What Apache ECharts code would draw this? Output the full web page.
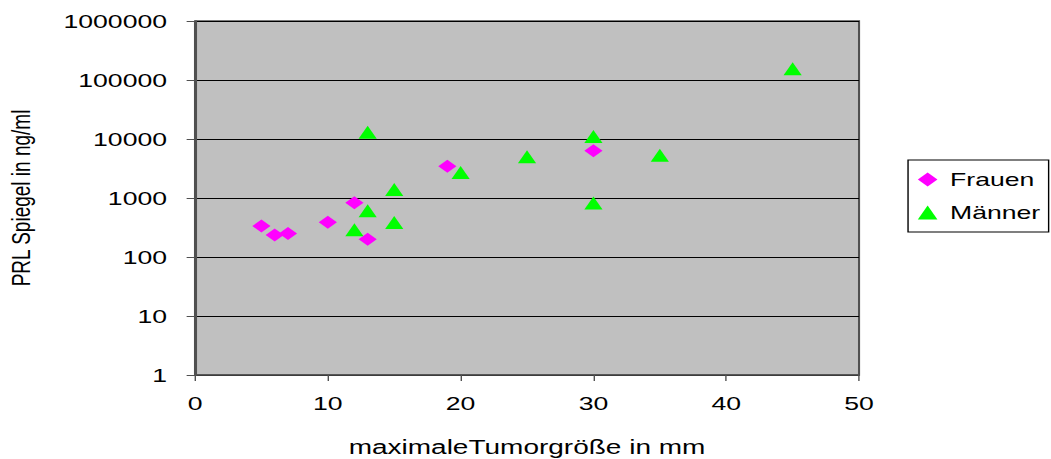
<!DOCTYPE html>
<html>
<head>
<meta charset="utf-8">
<script src="https://cdn.jsdelivr.net/npm/echarts@6/dist/echarts.min.js"></script>
<style>
  html, body { margin: 0; padding: 0; background: #ffffff; overflow: hidden; }
  #wrap { width: 1051px; height: 459px; overflow: hidden; }
  #chart { width: 751px; height: 459px; transform: scaleX(1.4); transform-origin: 0 0; }
</style>
</head>
<body>
<div id="wrap"><div id="chart"></div></div>
<script>
// ---- data ----
const seriesNames = ['Frauen', 'Männer'];
const frauenX = [5, 6, 7, 10, 12, 13, 19, 30];
const frauenY = [335, 235, 250, 390, 830, 200, 3450, 6300];
const maennerX = [12, 13, 13, 15, 15, 20, 25, 30, 30, 35, 45];
const maennerY = [290, 610, 13000, 385, 1400, 2700, 5000, 11000, 820, 5300, 155000];
const xTickLabels = ['0', '10', '20', '30', '40', '50'];
const yTickLabels = ['1', '10', '100', '1000', '10000', '100000', '1000000'];
const xTitle = 'maximaleTumorgröße in mm';
const yTitle = 'PRL Spiegel in ng/ml';

const pairs = (xs, ys) => xs.map((x, i) => [x, ys[i]]);
const font = 'Liberation Sans';

const chart = echarts.init(document.getElementById('chart'), null, { renderer: 'svg' });
chart.setOption({
  animation: false,
  backgroundColor: '#ffffff',
  textStyle: { fontFamily: font, color: '#000' },
  grid: {
    left: 139.3, right: 137.4, top: 21, bottom: 84,
    containLabel: false, outerBoundsMode: 'none',
    show: true, backgroundColor: '#C0C0C0', borderColor: '#505050', borderWidth: 1.5
  },
  legend: {
    orient: 'vertical',
    left: 648.6, top: 160,
    padding: [10, 6, 10, 7],
    itemGap: 14,
    itemWidth: 14, itemHeight: 14,
    backgroundColor: '#ffffff',
    borderColor: '#000000', borderWidth: 1,
    textStyle: { fontFamily: font, fontSize: 19, color: '#000', padding: [0, 0, 0, 4] },
    data: [
      { name: seriesNames[0], icon: 'diamond' },
      { name: seriesNames[1], icon: 'triangle' }
    ]
  },
  xAxis: {
    type: 'value',
    min: 0, max: 50, interval: 10,
    name: xTitle, nameLocation: 'middle', nameGap: 62,
    nameTextStyle: { fontFamily: font, fontSize: 20, color: '#000' },
    axisLine: { show: true, lineStyle: { color: '#505050', width: 1.5 } },
    axisTick: { show: true, inside: false, length: 6, lineStyle: { color: '#505050' } },
    axisLabel: { fontFamily: font, fontSize: 19, color: '#000', margin: 19,
      formatter: (v) => xTickLabels[Math.round(v / 10)] },
    splitLine: { show: false }
  },
  yAxis: {
    type: 'log', logBase: 10,
    min: 1, max: 1000000, splitNumber: 6,
    name: yTitle, nameLocation: 'middle', nameRotate: 90, nameGap: 115,
    nameTextStyle: { fontFamily: font, fontSize: 19, color: '#000' },
    axisLine: { show: true, lineStyle: { color: '#505050', width: 1.5 } },
    axisTick: { show: true, inside: false, length: 6, lineStyle: { color: '#505050' } },
    axisLabel: { fontFamily: font, fontSize: 19, color: '#000', margin: 20,
      formatter: (v) => yTickLabels[Math.round(Math.log10(v))] },
    splitLine: { show: true, lineStyle: { color: '#000000', width: 1 } }
  },
  series: [
    {
      name: seriesNames[0], type: 'scatter', symbol: 'diamond', symbolSize: 13,
      itemStyle: { color: '#FF00FF', opacity: 1 },
      data: pairs(frauenX, frauenY)
    },
    {
      name: seriesNames[1], type: 'scatter', symbol: 'triangle', symbolSize: 13,
      itemStyle: { color: '#00FF00', opacity: 1 },
      data: pairs(maennerX, maennerY)
    }
  ]
});
</script>
</body>
</html>
